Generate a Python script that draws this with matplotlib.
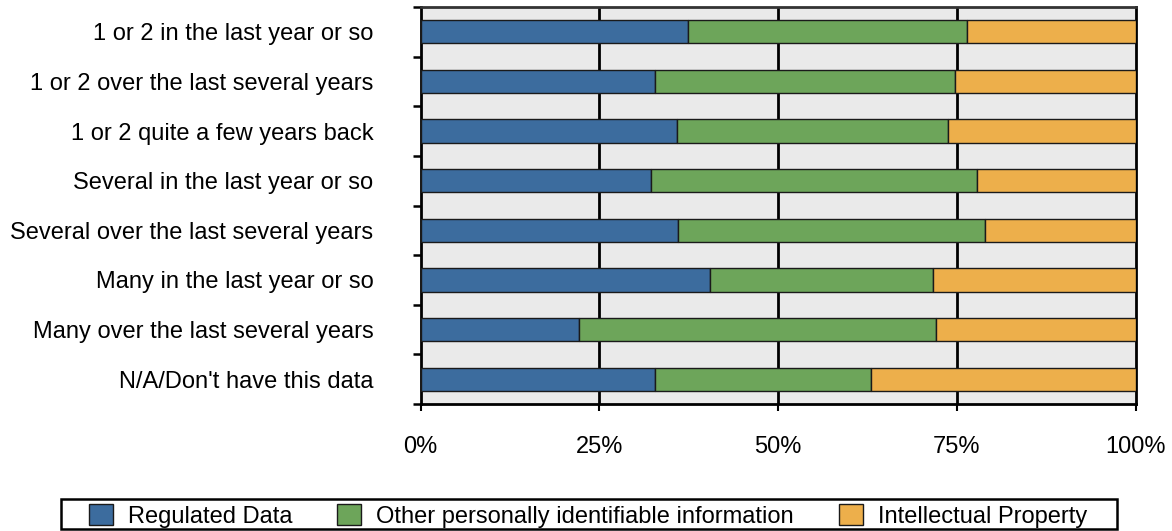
import matplotlib
matplotlib.use("Agg")
import matplotlib.pyplot as plt
from matplotlib.patches import Patch, Rectangle
import numpy as np

categories = [
    "1 or 2 in the last year or so",
    "1 or 2 over the last several years",
    "1 or 2 quite a few years back",
    "Several in the last year or so",
    "Several over the last several years",
    "Many in the last year or so",
    "Many over the last several years",
    "N/A/Don't have this data",
]
regulated = [37.4, 32.8, 35.9, 32.2, 36.0, 40.5, 22.1, 32.8]
other_pii = [39.0, 41.9, 37.9, 45.7, 43.0, 31.2, 50.0, 30.2]
intellectual = [23.6, 25.3, 26.2, 22.1, 21.0, 28.3, 27.9, 37.0]

series_names = ["Regulated Data", "Other personally identifiable information",
                "Intellectual Property"]
colors = ["#3C6C9E", "#6DA55A", "#EDAF4B"]
x_ticks = [0, 25, 50, 75, 100]
x_tick_labels = ["0%", "25%", "50%", "75%", "100%"]

plt.rcParams["font.family"] = ["Liberation Sans", "DejaVu Sans"]
FS = 17
W, H = 1172, 531

fig = plt.figure(figsize=(W / 100, H / 100), dpi=100)
ax = fig.add_axes([420.5 / W, 1 - 404 / H, 715 / W, (404 - 7) / H])
ax.set_facecolor("#EAEAEA")

y = np.arange(len(categories))
left = np.zeros(len(categories))
for vals, name, col in zip([regulated, other_pii, intellectual], series_names, colors):
    vals = np.asarray(vals)
    ax.barh(y, vals, left=left, height=0.47, color=col, edgecolor="#1a1a1a",
            linewidth=1.0, zorder=3, label=name)
    left = left + vals

ax.set_xlim(0, 100)
ax.set_ylim(len(categories) - 0.5, -0.5)

# vertical grid lines at the quarter marks
for gx in x_ticks[1:-1]:
    ax.axvline(gx, color="black", linewidth=2.0, zorder=1)

ax.set_xticks(x_ticks)
ax.set_xticklabels(x_tick_labels, fontsize=FS)
ax.tick_params(axis="x", direction="out", length=5, width=1.5, pad=18, colors="black")

# category boundaries get tick marks, category centres get the labels
ax.set_yticks(np.arange(-0.5, len(categories), 1.0))
ax.set_yticklabels([])
ax.tick_params(axis="y", which="major", direction="out", length=6, width=1.8)
ax.set_yticks(y, minor=True)
ax.set_yticklabels(categories, minor=True, fontsize=FS)
ax.tick_params(axis="y", which="minor", length=0, pad=34)

for side in ["left", "right", "bottom"]:
    ax.spines[side].set_linewidth(2.0)
    ax.spines[side].set_color("black")
ax.spines["top"].set_linewidth(2.0)
ax.spines["top"].set_color("#333333")

# legend entries, with a wide box drawn around them
handles = [Patch(facecolor=c, edgecolor="#1a1a1a", linewidth=1.0) for c in colors]
fig.legend(handles, series_names, loc="center", bbox_to_anchor=(588 / W, 1 - 516 / H),
           ncol=3, fontsize=FS, frameon=False,
           handlelength=1.0, handleheight=1.0, handletextpad=0.64,
           columnspacing=1.92, borderpad=0.0)
fig.patches.append(Rectangle((61 / W, 1 - 529 / H), (1117 - 61) / W, 30 / H,
                             transform=fig.transFigure, fill=False,
                             edgecolor="black", linewidth=1.8))

fig.savefig("out.png", dpi=100)
